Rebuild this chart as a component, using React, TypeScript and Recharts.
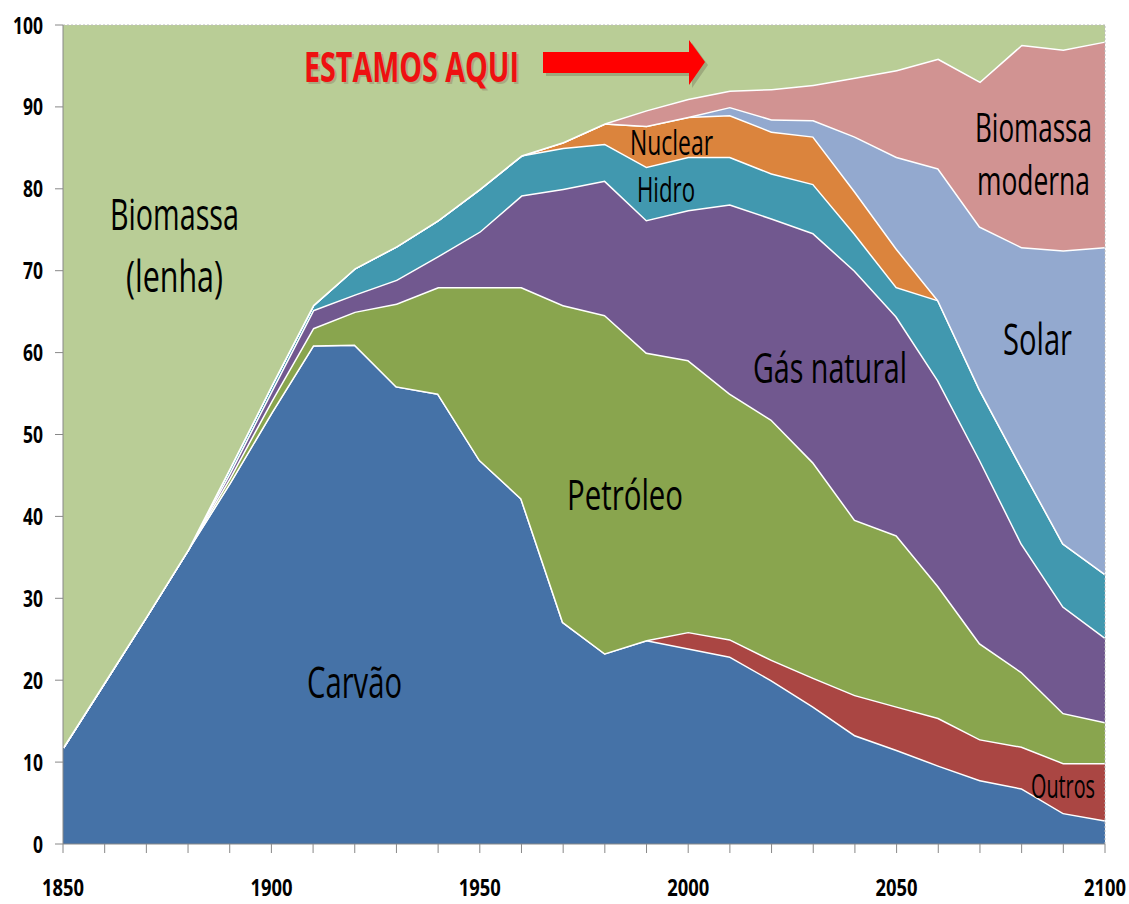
import React from "react";
import { AreaChart, Area, XAxis, YAxis, ReferenceLine } from "recharts";

// years sampled every decade
const years = [
  1850, 1860, 1870, 1880, 1890, 1900, 1910, 1920, 1930, 1940, 1950, 1960, 1970,
  1980, 1990, 2000, 2010, 2020, 2030, 2040, 2050, 2060, 2070, 2080, 2090, 2100,
];

// share of primary energy (%)
const carvao = [
  11.8, 19.8, 27.8, 36, 44.1, 52.7, 60.9, 61, 55.9, 55, 46.9, 42.2, 27.1, 23.3,
  24.9, 23.9, 22.9, 20, 16.8, 13.3, 11.5, 9.6, 7.8, 6.8, 3.8, 2.9,
];
const outros = [
  0, 0, 0, 0, 0, 0, 0, 0, 0, 0, 0, 0, 0, 0, 0, 2, 2.1, 2.5, 3.5, 4.9, 5.3, 5.8,
  5, 5.1, 6.1, 7,
];
const petroleo = [
  0, 0, 0, 0, 0.6, 1.4, 2.1, 4, 10.1, 13, 21.1, 25.8, 38.7, 41.3, 35.1, 33.2,
  30, 29.3, 26.3, 21.4, 20.9, 16.1, 11.7, 9.1, 6.1, 5,
];
const gasNatural = [
  0, 0, 0, 0, 0.6, 1.2, 2.2, 2.1, 2.9, 3.8, 6.8, 11.2, 14.2, 16.4, 16.2, 18.3,
  23.1, 24.6, 28, 30.4, 26.7, 25.1, 22.4, 15.7, 13, 10.3,
];
const hidro = [
  0, 0, 0, 0, 0.6, 0.7, 0.6, 3.2, 4.1, 4.4, 5.2, 4.9, 5, 4.5, 6.5, 6.5, 5.8,
  5.5, 6, 4.5, 3.6, 9.8, 8.6, 9.3, 7.7, 7.8,
];
const nuclear = [
  0, 0, 0, 0, 0, 0, 0, 0, 0, 0, 0, 0, 0.7, 2.5, 5, 4.9, 5.1, 5.1, 5.8, 5.2,
  4.7, 0, 0, 0, 0, 0,
];
const solar = [
  0, 0, 0, 0, 0, 0, 0, 0, 0, 0, 0, 0, 0, 0, 0, 0, 1, 1.5, 2, 6.7, 11.2, 16.1,
  19.9, 26.9, 35.8, 39.9,
];
const biomassaModerna = [
  0, 0, 0, 0, 0, 0, 0, 0, 0, 0, 0, 0, 0, 0, 1.9, 2.2, 2, 3.7, 4.3, 7.2, 10.6,
  13.4, 17.7, 24.7, 24.5, 25.1,
];
const biomassaLenha = [
  88.2, 80.2, 72.2, 64, 54.1, 44, 34.2, 29.7, 27, 23.8, 20, 15.9, 14.3, 12,
  10.4, 9, 8, 7.8, 7.3, 6.4, 5.5, 4.1, 6.9, 2.4, 3, 2,
];

const xTicks = years;
const xLabelYears = [1850, 1900, 1950, 2000, 2050, 2100];
const yTicks = [0, 10, 20, 30, 40, 50, 60, 70, 80, 90, 100];

const series = [
  { key: "carvao", values: carvao, color: "#4572A7" },
  { key: "outros", values: outros, color: "#AA4643" },
  { key: "petroleo", values: petroleo, color: "#89A54E" },
  { key: "gas", values: gasNatural, color: "#71588F" },
  { key: "hidro", values: hidro, color: "#4198AF" },
  { key: "nuclear", values: nuclear, color: "#DB843D" },
  { key: "solar", values: solar, color: "#93A9CF" },
  { key: "bioModerna", values: biomassaModerna, color: "#D19392" },
  { key: "lenha", values: biomassaLenha, color: "#B9CD96" },
];

const data = years.map((year, i) => {
  const row: Record<string, number> = { year };
  series.forEach((s) => {
    row[s.key] = s.values[i];
  });
  return row;
});

const FONT = "'Open Sans', 'Liberation Sans', sans-serif";

const XTick = (props: any) => {
  const { x, y, payload } = props;
  if (!xLabelYears.includes(payload.value)) return <g />;
  return (
    <text
      x={x}
      y={y + 41}
      textAnchor="middle"
      fontFamily={FONT}
      fontWeight="bold"
      fontSize={24}
      fill="#000"
      textLength={42}
      lengthAdjust="spacingAndGlyphs"
    >
      {payload.value}
    </text>
  );
};

const YTick = (props: any) => {
  const { x, y, payload } = props;
  const s = String(payload.value);
  return (
    <text
      x={x - 10}
      y={y + 8.5}
      textAnchor="end"
      fontFamily={FONT}
      fontWeight="bold"
      fontSize={24}
      fill="#000"
      textLength={s.length * 10}
      lengthAdjust="spacingAndGlyphs"
    >
      {s}
    </text>
  );
};

// text annotations painted on the areas
const labels = [
  { text: "Biomassa", x: 110, y: 230, w: 129, size: 43 },
  { text: "(lenha)", x: 126, y: 292, w: 97, size: 43 },
  { text: "Nuclear", x: 630, y: 155, w: 83, size: 35 },
  { text: "Hidro", x: 637, y: 202, w: 58, size: 34 },
  { text: "Biomassa", x: 975, y: 142, w: 117, size: 40 },
  { text: "moderna", x: 977, y: 195, w: 113, size: 40 },
  { text: "Solar", x: 1003, y: 355, w: 69, size: 44 },
  { text: "Gás natural", x: 753, y: 383, w: 154, size: 42 },
  { text: "Petróleo", x: 567, y: 510, w: 116, size: 42 },
  { text: "Carvão", x: 307, y: 698, w: 95, size: 43 },
  { text: "Outros", x: 1031, y: 798, w: 64, size: 32 },
];

const Overlay = () => (
  <svg
    width={1129}
    height={904}
    style={{ position: "absolute", left: 0, top: 0, pointerEvents: "none" }}
  >
    {labels.map((l, i) => (
      <text
        key={i}
        x={l.x}
        y={l.y}
        fontFamily={FONT}
        fontSize={l.size}
        fill="#000"
        textLength={l.w}
        lengthAdjust="spacingAndGlyphs"
      >
        {l.text}
      </text>
    ))}
    <text
      x={306}
      y={84}
      fontFamily={FONT}
      fontWeight="bold"
      fontSize={41}
      fill="#8a6a5a"
      opacity={0.35}
      textLength={215}
      lengthAdjust="spacingAndGlyphs"
    >
      ESTAMOS AQUI
    </text>
    <text
      x={304}
      y={82}
      fontFamily={FONT}
      fontWeight="bold"
      fontSize={41}
      fill="#ee1111"
      textLength={215}
      lengthAdjust="spacingAndGlyphs"
    >
      ESTAMOS AQUI
    </text>
    <polygon
      points="546,55 692,55 692,43 708,65 692,88 692,76 546,76"
      fill="#6b6b50"
      opacity={0.35}
    />
    <polygon
      points="543,52 689,52 689,40 705,62 689,85 689,73 543,73"
      fill="#ff0000"
    />
  </svg>
);

export default function App() {
  return (
    <div style={{ position: "absolute", left: 0, top: 0, width: 1129, height: 904, background: "#fff" }}>
      <AreaChart
        width={1129}
        height={904}
        data={data}
        margin={{ top: 25, right: 24, bottom: 0, left: 0 }}
      >
        <XAxis
          dataKey="year"
          type="number"
          domain={[1850, 2100]}
          ticks={xTicks}
          interval={0}
          height={60}
          tickSize={9}
          stroke="#888"
          tick={<XTick />}
        />
        <YAxis
          type="number"
          domain={[0, 100]}
          ticks={yTicks}
          interval={0}
          width={63}
          tickSize={8}
          stroke="#888"
          tick={<YTick />}
        />
        {series.map((s) => (
          <Area
            key={s.key}
            type="linear"
            dataKey={s.key}
            stackId="1"
            fill={s.color}
            fillOpacity={1}
            stroke={s.key === "lenha" ? "none" : "#fff"}
            strokeWidth={3}
            isAnimationActive={false}
            dot={false}
            activeDot={false}
          />
        ))}
        <ReferenceLine y={100} stroke="#bbb" strokeDasharray="2 2" />
        <ReferenceLine x={2100} stroke="#bbb" strokeDasharray="2 2" />
      </AreaChart>
      <Overlay />
    </div>
  );
}
